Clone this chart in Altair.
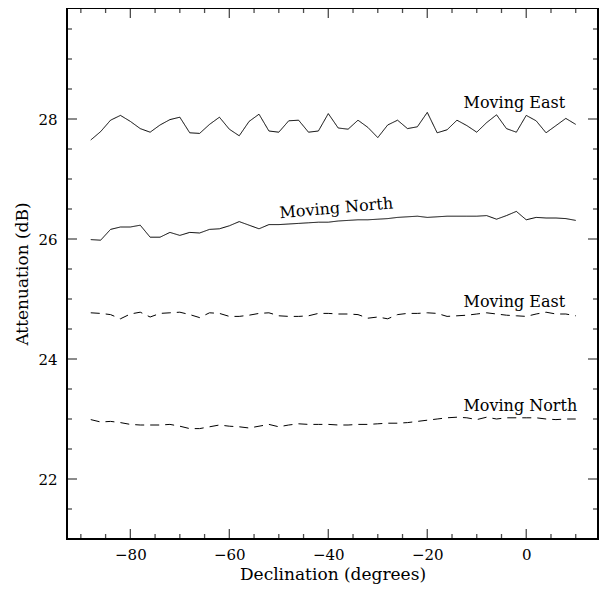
import altair as alt
import pandas as pd

dec = [-88, -86, -84, -82, -80, -78, -76, -74, -72, -70,
       -68, -66, -64, -62, -60, -58, -56, -54, -52, -50,
       -48, -46, -44, -42, -40, -38, -36, -34, -32, -30,
       -28, -26, -24, -22, -20, -18, -16, -14, -12, -10,
       -8, -6, -4, -2, 0, 2, 4, 6, 8, 10]

east_solid = [27.65, 27.79, 27.98, 28.06, 27.96, 27.84, 27.78, 27.90, 27.99, 28.03,
              27.77, 27.76, 27.91, 28.03, 27.83, 27.72, 27.96, 28.08, 27.80, 27.78,
              27.97, 27.98, 27.78, 27.80, 28.09, 27.85, 27.83, 27.98, 27.86, 27.69,
              27.90, 27.98, 27.84, 27.87, 28.11, 27.77, 27.82, 27.98, 27.89, 27.78,
              27.94, 28.07, 27.84, 27.78, 28.06, 27.97, 27.77, 27.89, 28.01, 27.91]

north_solid = [25.99, 25.98, 26.16, 26.20, 26.20, 26.23, 26.03, 26.03, 26.11, 26.06,
               26.11, 26.10, 26.16, 26.17, 26.22, 26.29, 26.23, 26.17, 26.24, 26.24,
               26.25, 26.26, 26.27, 26.28, 26.28, 26.30, 26.31, 26.32, 26.32, 26.33,
               26.34, 26.36, 26.37, 26.38, 26.36, 26.37, 26.38, 26.38, 26.38, 26.38,
               26.39, 26.33, 26.39, 26.46, 26.32, 26.36, 26.35, 26.35, 26.34, 26.31]

east_dashed = [24.77, 24.76, 24.74, 24.67, 24.75, 24.78, 24.70, 24.76, 24.77, 24.78,
               24.74, 24.69, 24.77, 24.76, 24.71, 24.71, 24.73, 24.76, 24.77, 24.72,
               24.71, 24.71, 24.72, 24.76, 24.76, 24.75, 24.75, 24.74, 24.68, 24.70,
               24.67, 24.74, 24.76, 24.76, 24.77, 24.76, 24.71, 24.72, 24.73, 24.75,
               24.77, 24.75, 24.73, 24.72, 24.71, 24.75, 24.78, 24.75, 24.75, 24.72]

north_dashed = [22.99, 22.95, 22.96, 22.94, 22.91, 22.90, 22.90, 22.90, 22.91, 22.88,
                22.84, 22.84, 22.87, 22.90, 22.88, 22.87, 22.85, 22.88, 22.91, 22.87,
                22.90, 22.92, 22.91, 22.91, 22.91, 22.90, 22.90, 22.91, 22.91, 22.92,
                22.93, 22.93, 22.94, 22.96, 22.98, 23.00, 23.02, 23.03, 23.02, 22.99,
                23.03, 23.00, 23.02, 23.02, 23.02, 23.02, 23.00, 22.99, 23.00, 23.00]

series_names = ["east_solid", "north_solid", "east_dashed", "north_dashed"]
series_style = ["solid", "solid", "dashed", "dashed"]
series_values = [east_solid, north_solid, east_dashed, north_dashed]

label_text = ["Moving East", "Moving North", "Moving East", "Moving North"]
label_x = [-2.4, -38.3, -2.4, -1.2]
label_y = [28.18, 26.43, 24.87, 23.14]
label_angle = [0, 355, 0, 0]

x_major = [-80, -60, -40, -20, 0]
x_minor = [-90, -85, -75, -70, -65, -55, -50, -45, -35, -30, -25, -15, -10, -5, 5, 10]
y_major = [22, 24, 26, 28]
y_minor = [21.5, 22.5, 23, 23.5, 24.5, 25, 25.5, 26.5, 27, 27.5, 28.5, 29, 29.5]

W, H = 531, 531
FONT = "DejaVu Serif"

rows = []
for name, style, vals in zip(series_names, series_style, series_values):
    for d, v in zip(dec, vals):
        rows.append({"series": name, "style": style, "dec": d, "att": v})
lines_df = pd.DataFrame(rows)

labels_df = pd.DataFrame({"dec": label_x, "att": label_y,
                          "text": label_text, "angle": label_angle})

xs = alt.Scale(domain=[-92.8, 14.5], nice=False, zero=False)
ys = alt.Scale(domain=[21, 29.85], nice=False, zero=False)

x_axis = alt.Axis(values=x_major, format="d", ticks=False, domain=False, grid=False,
                  labelFont=FONT, labelFontSize=15, labelColor="black",
                  labelPadding=8, title="Declination (degrees)",
                  titleFont=FONT, titleFontSize=17, titleFontWeight="normal",
                  titleColor="black", titlePadding=4)
y_axis = alt.Axis(values=y_major, format="d", ticks=False, domain=False, grid=False,
                  labelFont=FONT, labelFontSize=15, labelColor="black",
                  labelPadding=10, title="Attenuation (dB)",
                  titleFont=FONT, titleFontSize=17, titleFontWeight="normal",
                  titleColor="black", titlePadding=6)

X = alt.X("dec:Q", scale=xs, axis=x_axis)
Y = alt.Y("att:Q", scale=ys, axis=y_axis)

lines = alt.Chart(lines_df).mark_line(color="black", strokeWidth=1, clip=True).encode(
    x=X, y=Y, detail="series:N",
    strokeDash=alt.StrokeDash("style:N",
                              scale=alt.Scale(domain=["solid", "dashed"],
                                              range=[[1, 0], [9, 6]]),
                              legend=None),
)

labels = alt.Chart(labels_df).mark_text(font=FONT, fontSize=16, color="black",
                                        align="center", baseline="alphabetic").encode(
    x=X, y=Y, text="text:N", angle=alt.Angle("angle:Q", scale=None)
)


def xticks(vals, length, ypos):
    df = pd.DataFrame({"dec": vals})
    return alt.Chart(df).mark_tick(orient="vertical", size=2 * length, thickness=1.3,
                                   color="black", clip=True).encode(
        x=X, y=alt.value(ypos))


def yticks(vals, length, xpos):
    df = pd.DataFrame({"att": vals})
    return alt.Chart(df).mark_tick(orient="horizontal", size=2 * length, thickness=1.3,
                                   color="black", clip=True).encode(
        y=Y, x=alt.value(xpos))


ticks = [
    xticks(x_major, 10, H), xticks(x_minor, 5, H),
    xticks(x_major, 10, 0), xticks(x_minor, 5, 0),
    yticks(y_major, 10, 0), yticks(y_minor, 5, 0),
    yticks(y_major, 10, W), yticks(y_minor, 5, W),
]

chart = alt.layer(lines, labels, *ticks).properties(
    width=W, height=H,
    autosize=alt.AutoSizeParams(type="none"),
    padding={"left": 59, "top": 0, "right": 2, "bottom": 50},
    background="white",
).configure_view(stroke="black", strokeWidth=2)

chart.save("out.html", embed_options={"renderer": "svg", "actions": False})
